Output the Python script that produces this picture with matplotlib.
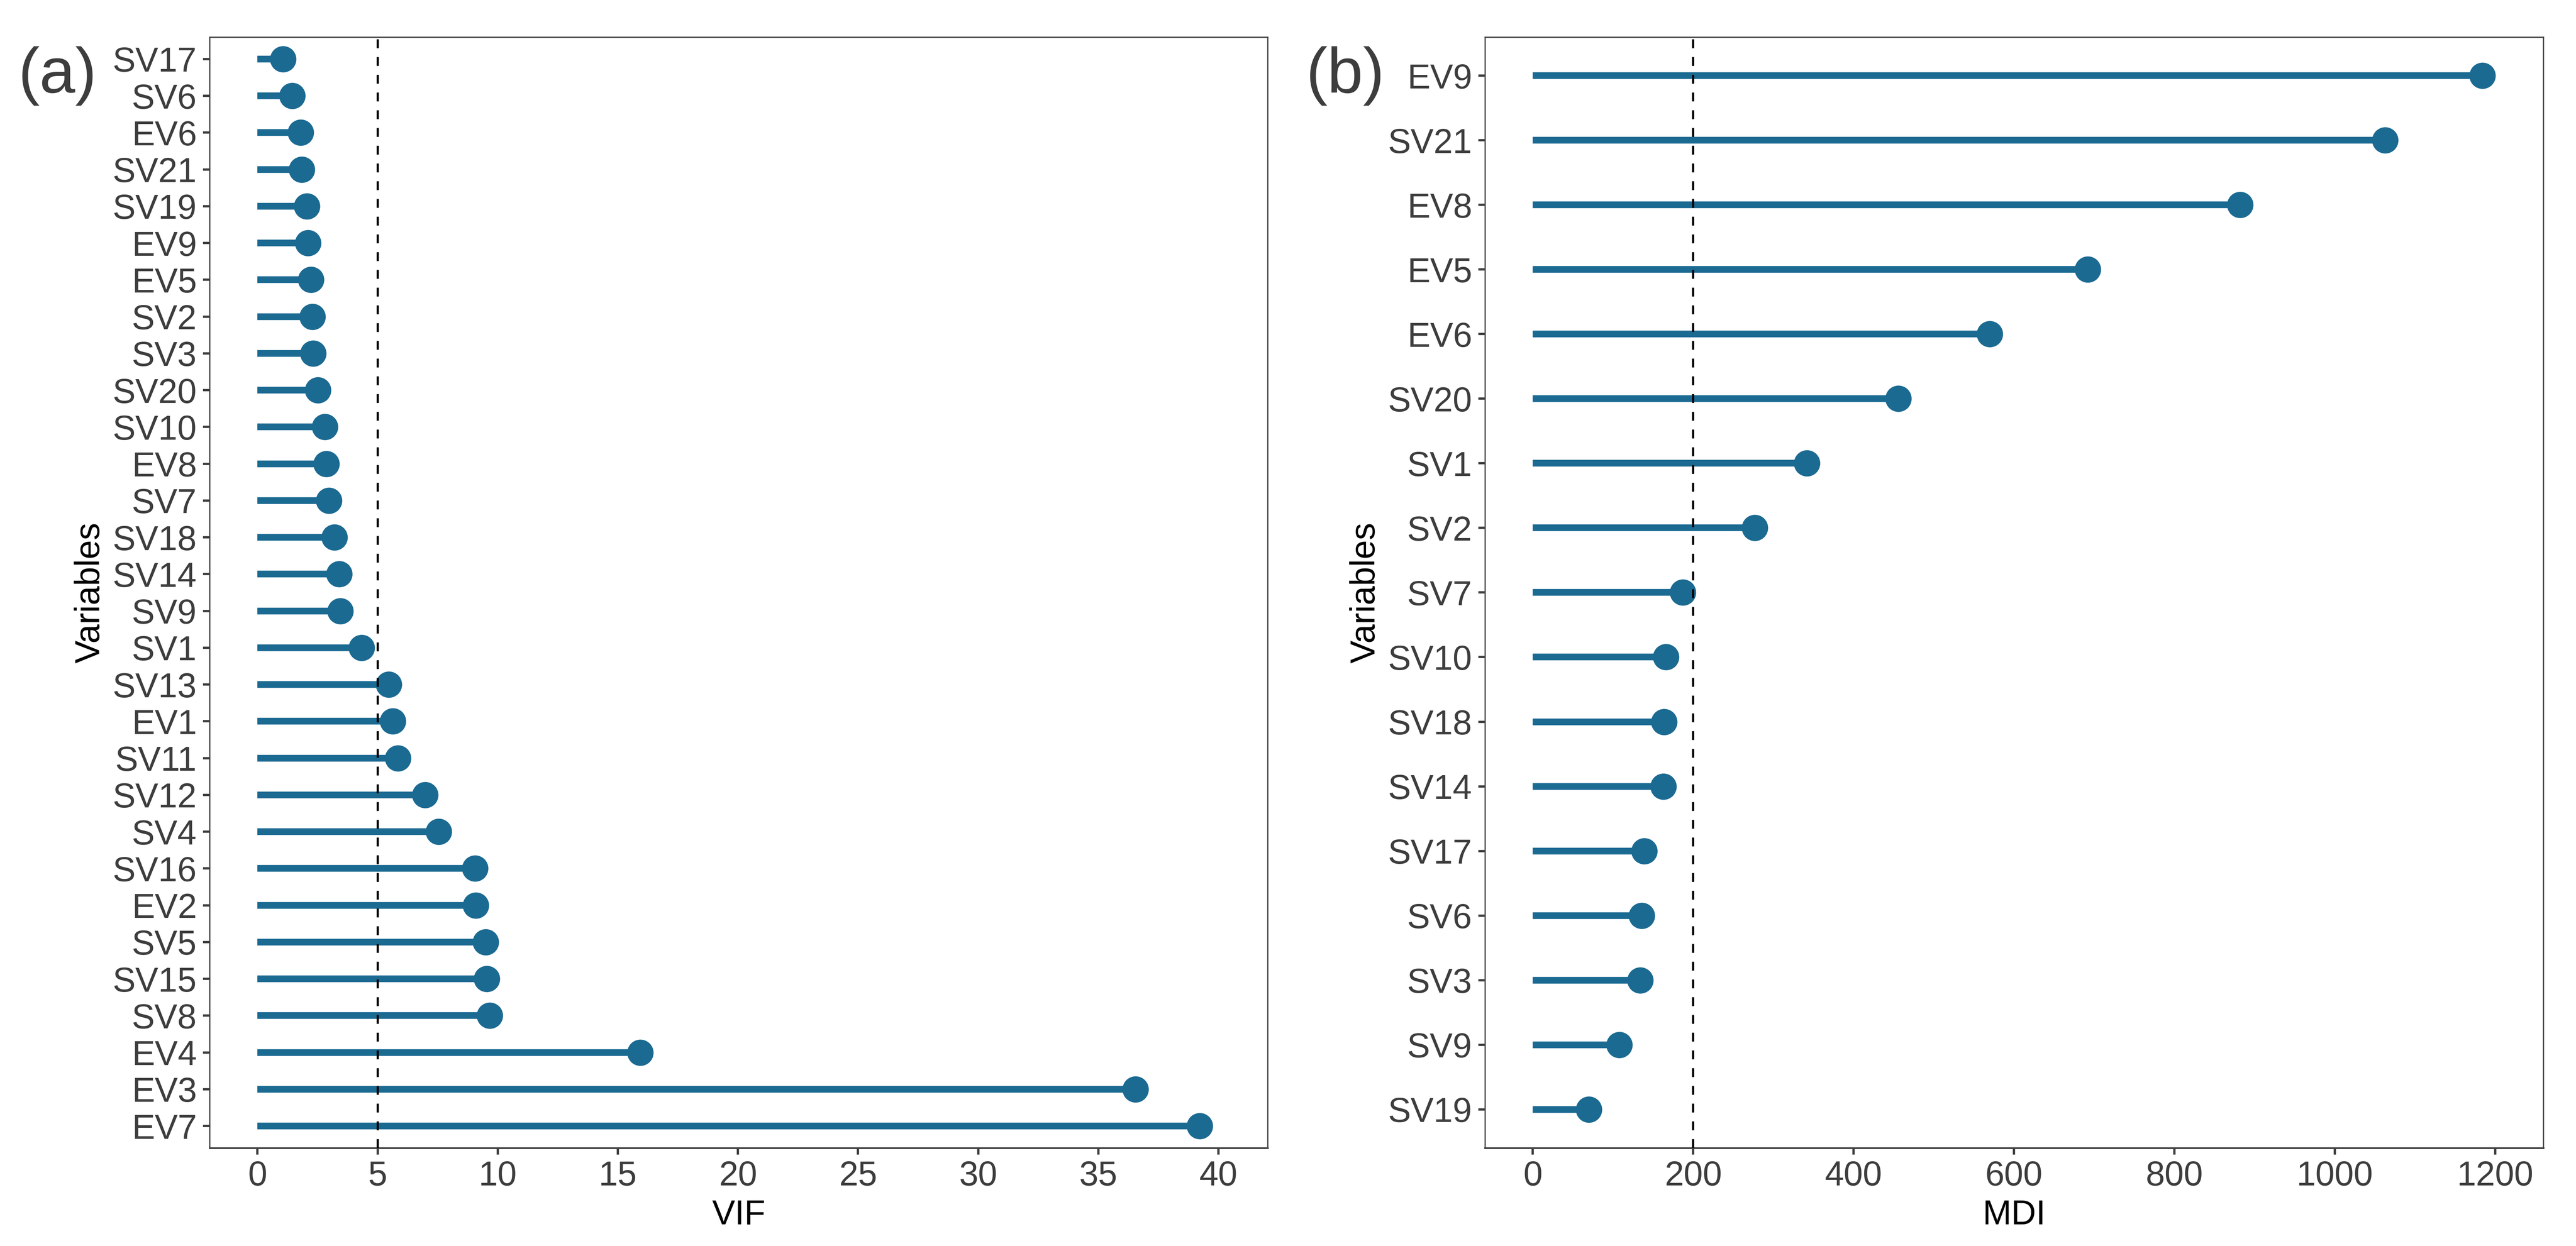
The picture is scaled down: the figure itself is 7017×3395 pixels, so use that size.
import numpy as np
import matplotlib
matplotlib.use("Agg")
import matplotlib.pyplot as plt

plt.rcParams['font.family'] = ['Liberation Sans', 'DejaVu Sans']

# --- panel (a): VIF, top to bottom ---
vif_vars = ['SV17', 'SV6', 'EV6', 'SV21', 'SV19', 'EV9', 'EV5', 'SV2', 'SV3', 'SV20',
            'SV10', 'EV8', 'SV7', 'SV18', 'SV14', 'SV9', 'SV1', 'SV13', 'EV1', 'SV11',
            'SV12', 'SV4', 'SV16', 'EV2', 'SV5', 'SV15', 'SV8', 'EV4', 'EV3', 'EV7']
vif_vals = [1.06, 1.44, 1.80, 1.85, 2.06, 2.11, 2.22, 2.29, 2.31, 2.52,
            2.81, 2.86, 2.97, 3.20, 3.40, 3.45, 4.34, 5.46, 5.64, 5.84,
            6.98, 7.55, 9.06, 9.08, 9.50, 9.54, 9.66, 15.94, 36.55, 39.22]
vif_ticks = [0, 5, 10, 15, 20, 25, 30, 35, 40]
vif_cut = 5

# --- panel (b): MDI, top to bottom ---
mdi_vars = ['EV9', 'SV21', 'EV8', 'EV5', 'EV6', 'SV20', 'SV1', 'SV2', 'SV7',
            'SV10', 'SV18', 'SV14', 'SV17', 'SV6', 'SV3', 'SV9', 'SV19']
mdi_vals = [1184, 1063, 882, 692, 570, 456, 342, 277, 187,
            166, 164, 163, 139, 136, 134, 108, 70]
mdi_ticks = [0, 200, 400, 600, 800, 1000, 1200]
mdi_cut = 200

COL = '#1b6a92'
TXT = '#3d3d3d'

fig = plt.figure(figsize=(7017 / 300, 3395 / 300), dpi=300)
ax1 = fig.add_axes([0.0814, 0.0786, 0.4107, 0.8917])
ax2 = fig.add_axes([0.5765, 0.0786, 0.4108, 0.8917])


def lollipop(ax, names, vals, ticks, cut, xlim, xlabel):
    n = len(names)
    y = np.arange(n)[::-1]
    ax.hlines(y, 0, vals, color=COL, lw=4.4, zorder=2)
    ax.plot(vals, y, 'o', color=COL, ms=17.2, mec='none', zorder=3)
    ax.axvline(cut, color='black', lw=1.45, linestyle=(0, (4, 4)), zorder=4)
    ax.set_xlim(*xlim)
    ax.set_ylim(-0.6, n - 0.4)
    ax.set_yticks(y)
    ax.set_yticklabels(names)
    ax.set_xticks(ticks)
    ax.tick_params(axis='both', labelsize=22.5, colors=TXT, length=4.4, width=1.5,
                   direction='out')
    ax.tick_params(axis='x', pad=3.5)
    ax.tick_params(axis='y', pad=4)
    ax.set_xlabel(xlabel, fontsize=22.5, color='black', labelpad=4)
    ax.set_ylabel('Variables', fontsize=22.5, color='black', labelpad=4)
    for s in ax.spines.values():
        s.set_color('#444444')
        s.set_linewidth(0.8)
    ax.spines['bottom'].set_linewidth(1.2)


lollipop(ax1, vif_vars, vif_vals, vif_ticks, vif_cut, (-1.99, 42.05), 'VIF')
lollipop(ax2, mdi_vars, mdi_vals, mdi_ticks, mdi_cut, (-59.4, 1260), 'MDI')

fig.text(0.007, 0.939, '(a)', fontsize=42, color=TXT, ha='left', va='center')
fig.text(0.507, 0.939, '(b)', fontsize=42, color=TXT, ha='left', va='center')

fig.savefig('out.png', dpi=300, facecolor='white')
